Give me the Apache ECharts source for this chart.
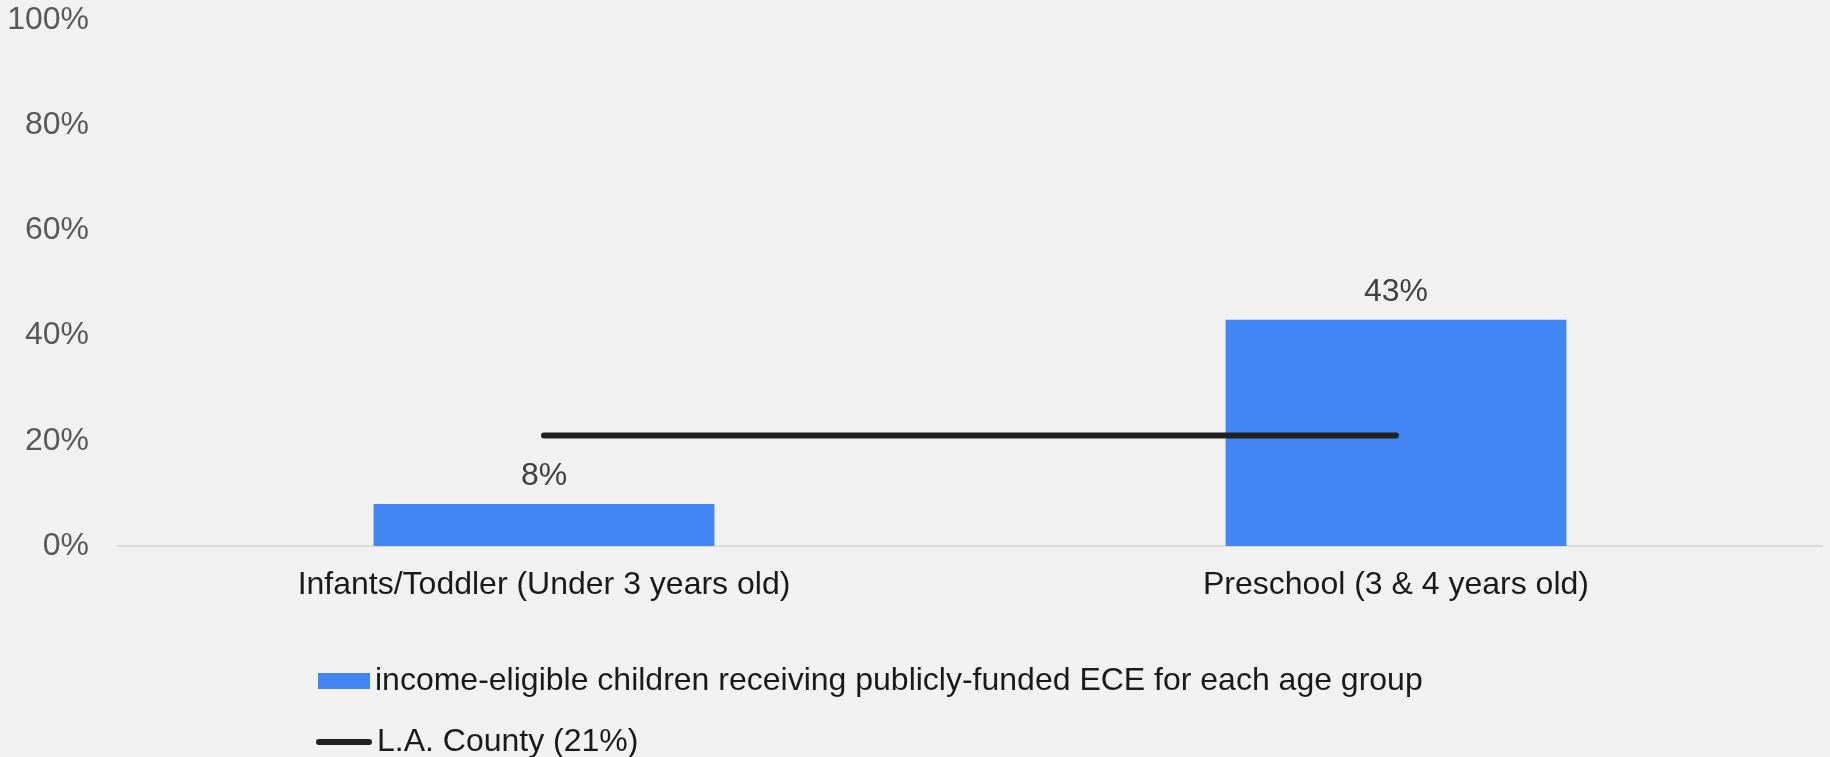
<!DOCTYPE html>
<html>
<head>
<meta charset="utf-8">
<script src="https://cdn.jsdelivr.net/npm/echarts@6/dist/echarts.min.js"></script>
<style>
  html, body { margin: 0; padding: 0; background: #f0f1f0; }
  #chart { width: 1830px; height: 757px; }
</style>
</head>
<body>
<div id="chart"></div>
<script>
// Age groups on the x axis
const categories = ['Infants/Toddler (Under 3 years old)', 'Preschool (3 & 4 years old)'];
// Share of income-eligible children served, by age group (%)
const servedShare = [8, 43];
// County-wide reference level (%), drawn across both groups
const countyShare = [21, 21];
const barName = 'income-eligible children receiving publicly-funded ECE for each age group';
const lineName = 'L.A. County (21%)';

const FONT = '"Liberation Sans", Arial, sans-serif';
const legendText = { fontFamily: FONT, fontSize: 32, color: '#1a1a1a' };

const chart = echarts.init(document.getElementById('chart'), null, { renderer: 'canvas' });
chart.setOption({
  backgroundColor: '#f0f1f0',
  animation: false,
  textStyle: { fontFamily: FONT },
  grid: { left: 118, right: 8, top: 20, bottom: 211, containLabel: false },
  legend: [
    {
      left: 318,
      top: 665,
      padding: 0,
      itemWidth: 52,
      itemHeight: 16,
      textStyle: legendText,
      data: [{ name: barName, icon: 'rect' }]
    },
    {
      left: 316,
      top: 726,
      padding: 0,
      itemWidth: 56,
      itemHeight: 6,
      textStyle: legendText,
      data: [{
        name: lineName,
        icon: 'path://M3,0 H53 A3,3 0 0 1 53,6 H3 A3,3 0 0 1 3,0 Z'
      }]
    }
  ],
  xAxis: {
    type: 'category',
    data: categories,
    axisLine: { lineStyle: { color: '#d9d9d9', width: 2 } },
    axisTick: { show: false },
    axisLabel: { fontFamily: FONT, fontSize: 32, color: '#1a1a1a', margin: 23, interval: 0 }
  },
  yAxis: {
    type: 'value',
    min: 0,
    max: 100,
    interval: 20,
    axisLine: { show: false },
    axisTick: { show: false },
    splitLine: { show: false },
    axisLabel: {
      fontFamily: FONT, fontSize: 32, color: '#595959', margin: 29,
      padding: [9, 0, 0, 0], formatter: '{value}%'
    }
  },
  series: [
    {
      name: barName,
      type: 'bar',
      data: servedShare,
      barCategoryGap: '60%',
      itemStyle: { color: '#4285f4' },
      label: {
        show: true,
        position: 'top',
        distance: 12,
        fontFamily: FONT,
        fontSize: 32,
        color: '#404040',
        formatter: '{c}%'
      }
    },
    {
      name: lineName,
      type: 'line',
      data: countyShare,
      symbol: 'none',
      lineStyle: { color: '#212121', width: 6, cap: 'round' },
      itemStyle: { color: '#212121' },
      z: 3
    }
  ]
});
</script>
</body>
</html>
